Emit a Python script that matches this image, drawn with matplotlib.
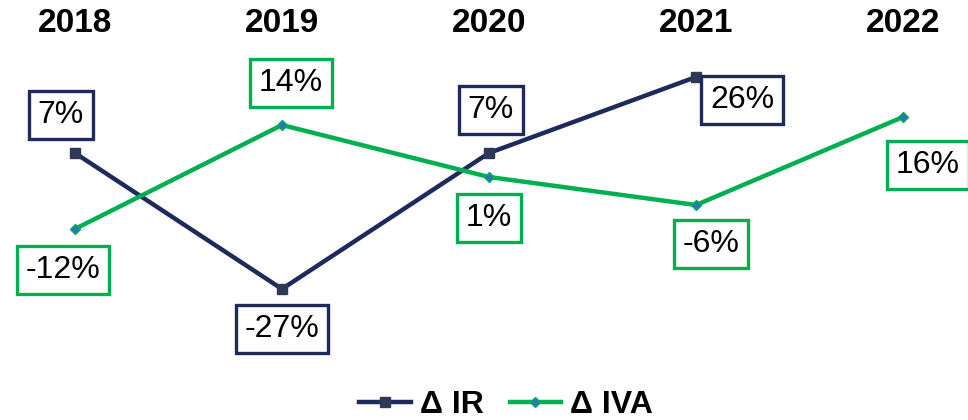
import matplotlib
matplotlib.use("Agg")
import matplotlib.pyplot as plt

plt.rcParams['font.family'] = ['Liberation Sans', 'DejaVu Sans']

anos = ["2018", "2019", "2020", "2021", "2022"]
delta_ir = [7, -27, 7, 26]
delta_iva = [-12, 14, 1, -6, 16]

cor_ir = "#1F2A5C"
cor_iva = "#00B050"

# deslocamento dos rotulos em pixels
off_ir = [(-14, 38), (0, -40), (2, 43), (46, -23)]
off_iva = [(-12, -41), (9, 42), (0, -41), (15, -39), (25, -48)]

fig = plt.figure(figsize=(9.68, 4.2), dpi=100)
ax = fig.add_axes([0, 0, 1, 1])

x_ir = list(range(len(delta_ir)))
x_iva = list(range(len(delta_iva)))

ax.plot(x_ir, delta_ir, color=cor_ir, lw=3.2, marker="s", ms=7,
        mfc="#2E3A55", mec="#2E3A55", label="Δ IR", zorder=3)
ax.plot(x_iva, delta_iva, color=cor_iva, lw=3.2, marker="D", ms=5.5,
        mfc="#2E75B6", mec=cor_iva, mew=1, label="Δ IVA", zorder=3)

for i, v in enumerate(delta_ir):
    ax.annotate(f"{v}%", (i, v), xytext=off_ir[i], textcoords="offset pixels",
                ha="center", va="center", fontsize=23, color="black", zorder=5,
                bbox=dict(boxstyle="square,pad=0.28", fc="white", ec=cor_ir, lw=2.4))

for i, v in enumerate(delta_iva):
    ax.annotate(f"{v}%", (i, v), xytext=off_iva[i], textcoords="offset pixels",
                ha="center", va="center", fontsize=23, color="black", zorder=5,
                bbox=dict(boxstyle="square,pad=0.28", fc="white", ec=cor_iva, lw=2.4))

for i, a in enumerate(anos):
    ax.text(i, 0.943, a, transform=ax.get_xaxis_transform(), ha="center", va="center",
            fontsize=24, fontweight="bold")

ax.set_xlim(-0.362, 4.314)
ax.set_ylim(-59.75, 45.25)
ax.axis("off")

leg = ax.legend(loc="center", bbox_to_anchor=(0.523, 0.035), ncol=2, frameon=False,
                handlelength=1.6, columnspacing=0.8, handletextpad=0.3,
                borderaxespad=0, prop={"size": 23, "weight": "bold"})

fig.savefig("out.png", dpi=100)
